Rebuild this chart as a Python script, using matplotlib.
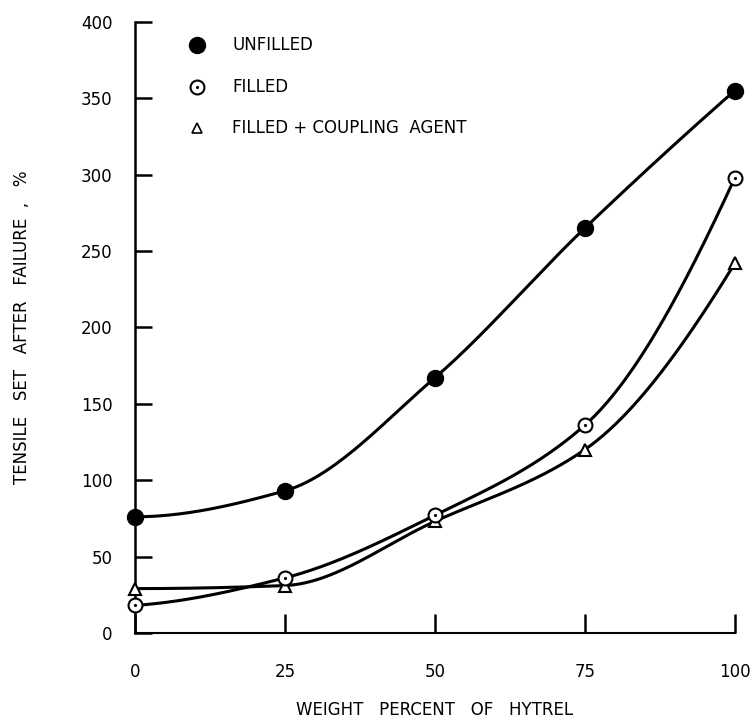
import numpy as np
import matplotlib.pyplot as plt

# weight percent of Hytrel
x = [0, 25, 50, 75, 100]
# tensile set after failure, %
unfilled = [76, 93, 167, 265, 355]
filled = [18, 36, 77, 136, 298]
filled_coupling = [29, 31, 73, 120, 242]

xticks = [0, 25, 50, 75, 100]
yticks = [0, 50, 100, 150, 200, 250, 300, 350, 400]


def smooth(xs, ys, n=300):
    # monotone cubic (PCHIP) curve through the measured points, for drawing only
    xs = np.asarray(xs, float)
    ys = np.asarray(ys, float)
    h = np.diff(xs)
    dl = np.diff(ys) / h
    k = len(xs)
    d = np.zeros(k)
    for i in range(1, k - 1):
        if dl[i - 1] * dl[i] > 0:
            w1 = 2 * h[i] + h[i - 1]
            w2 = h[i] + 2 * h[i - 1]
            d[i] = (w1 + w2) / (w1 / dl[i - 1] + w2 / dl[i])

    def end(h0, h1, m0, m1):
        v = ((2 * h0 + h1) * m0 - h0 * m1) / (h0 + h1)
        if np.sign(v) != np.sign(m0):
            v = 0
        elif np.sign(m0) != np.sign(m1) and abs(v) > abs(3 * m0):
            v = 3 * m0
        return v

    d[0] = end(h[0], h[1], dl[0], dl[1])
    d[-1] = end(h[-1], h[-2], dl[-1], dl[-2])
    xx = np.linspace(xs[0], xs[-1], n)
    idx = np.clip(np.searchsorted(xs, xx) - 1, 0, k - 2)
    t = (xx - xs[idx]) / h[idx]
    h00 = 2 * t ** 3 - 3 * t ** 2 + 1
    h10 = t ** 3 - 2 * t ** 2 + t
    h01 = -2 * t ** 3 + 3 * t ** 2
    h11 = t ** 3 - t ** 2
    yy = h00 * ys[idx] + h10 * h[idx] * d[idx] + h01 * ys[idx + 1] + h11 * h[idx] * d[idx + 1]
    return xx, yy


fig = plt.figure(figsize=(7.53, 7.25), dpi=100)
ax = fig.add_axes([0.179, 0.127, 0.797, 0.843])

for ys in [unfilled, filled, filled_coupling]:
    xx, yy = smooth(x, ys)
    ax.plot(xx, yy, color='black', lw=2.2, clip_on=False, zorder=2)

ax.plot(x, unfilled, 'o', color='black', ms=11.5, clip_on=False, zorder=4)
ax.plot(x, filled, 'o', mfc='white', mec='black', mew=1.5, ms=10, clip_on=False, zorder=4)
ax.plot(x, filled, '.', color='black', ms=2.5, clip_on=False, zorder=5)
ax.plot(x, filled_coupling, '^', mfc='white', mec='black', mew=1.5, ms=8, clip_on=False, zorder=3)

# legend drawn as text, like the original figure
lx, tx = 10.3, 16.2
ax.plot(lx, 385, 'o', color='black', ms=11.5)
ax.plot(lx, 357, 'o', mfc='white', mec='black', mew=1.5, ms=10)
ax.plot(lx, 357, '.', color='black', ms=2.5)
ax.plot(lx, 330.5, '^', mfc='white', mec='black', mew=1.2, ms=7)
fs = 12
ax.text(tx, 385, 'UNFILLED', fontsize=fs, va='center')
ax.text(tx, 357, 'FILLED', fontsize=fs, va='center')
ax.text(tx, 330.5, 'FILLED + COUPLING  AGENT', fontsize=fs, va='center')

ax.set_xlim(0, 100)
ax.set_ylim(0, 400)
ax.set_xticks(xticks)
ax.set_yticks(yticks)
ax.spines['top'].set_visible(False)
ax.spines['right'].set_visible(False)
ax.spines['left'].set_linewidth(1.8)
ax.spines['bottom'].set_linewidth(1.5)
ax.tick_params(axis='y', direction='in', length=12, width=1.8, pad=16, labelsize=fs)
ax.tick_params(axis='x', direction='in', length=14, width=1.8, pad=22, labelsize=fs)

ax.set_xlabel('WEIGHT   PERCENT   OF   HYTREL', fontsize=fs, labelpad=14)
ax.set_ylabel('TENSILE   SET   AFTER   FAILURE  ,   %', fontsize=fs, labelpad=36)

fig.savefig('out.png', dpi=100)
